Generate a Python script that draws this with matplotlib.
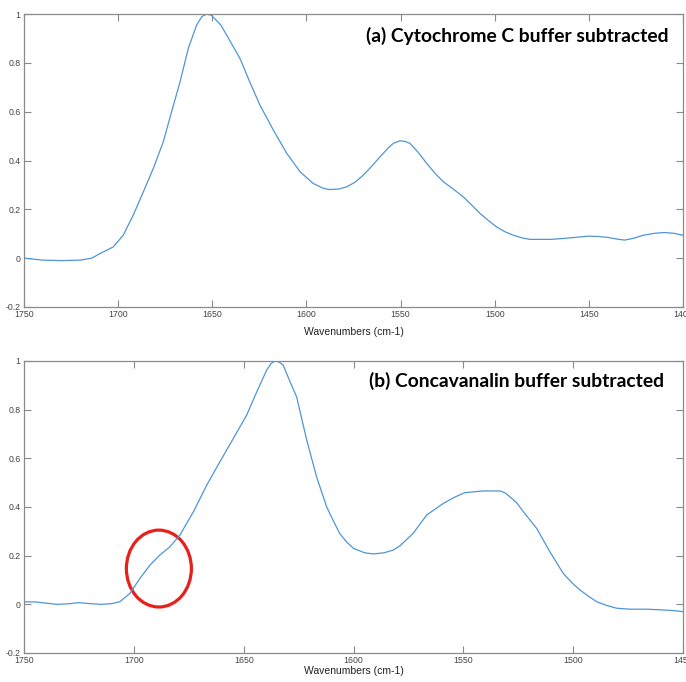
import matplotlib
matplotlib.use("Agg")
import matplotlib.pyplot as plt
from matplotlib.patches import Ellipse

# ---- data ----
top_wavenumbers = [1750, 1740, 1730, 1720, 1714, 1709.6, 1702.6, 1697.3, 1692, 1686.6, 1681.3,
                   1676, 1671.6, 1667.2, 1662.7, 1658.3, 1655.5, 1653, 1650.5, 1648.6, 1645.5,
                   1642.4, 1635.3, 1630, 1624.7, 1617.6, 1610.5, 1603.4, 1596.4, 1591, 1587.5,
                   1583, 1578.6, 1574, 1569.8, 1565.5, 1560.9, 1556.5, 1553.9, 1550.3, 1547.5,
                   1545, 1540.5, 1536.1, 1531.5, 1527.3, 1522, 1516.7, 1512, 1507.8, 1503.5,
                   1499, 1494.5, 1490.1, 1485.5, 1481.3, 1470, 1463, 1456, 1450.5, 1445, 1440,
                   1435, 1431, 1426, 1421, 1415, 1410, 1405, 1400]
top_absorbance = [0.0, -0.008, -0.01, -0.008, 0.0, 0.019, 0.046, 0.094, 0.176, 0.272, 0.368,
                  0.477, 0.60, 0.72, 0.86, 0.955, 0.99, 0.999, 0.995, 0.98, 0.955,
                  0.914, 0.818, 0.72, 0.627, 0.525, 0.43, 0.354, 0.306, 0.286, 0.281,
                  0.283, 0.292, 0.312, 0.34, 0.375, 0.415, 0.452, 0.47, 0.481, 0.478,
                  0.47, 0.432, 0.388, 0.346, 0.313, 0.283, 0.251, 0.216, 0.183, 0.155,
                  0.128, 0.108, 0.094, 0.083, 0.077, 0.077, 0.081, 0.086, 0.09, 0.089, 0.085,
                  0.078, 0.074, 0.082, 0.094, 0.102, 0.105, 0.102, 0.094]

bottom_wavenumbers = [1750, 1745, 1740, 1735, 1730, 1725, 1720, 1715, 1710, 1706.3, 1701.8,
                      1697.2, 1692.6, 1688.1, 1683.5, 1679, 1672.9, 1666.8, 1660.8, 1654.7,
                      1648.6, 1644, 1639.5, 1637.5, 1635.8, 1634, 1632, 1628.9, 1625.9, 1621.3,
                      1616.8, 1612.2, 1609, 1606.2, 1603, 1600, 1595, 1591, 1586, 1581.9,
                      1578.9, 1572.8, 1566.7, 1559.1, 1554, 1549.3, 1540.9, 1533.3, 1531,
                      1528.8, 1525.5, 1522.7, 1516.6, 1510.6, 1504.5, 1500.5, 1496.9, 1493,
                      1489.3, 1485, 1480.2, 1474, 1466.4, 1459.2, 1454, 1450]
bottom_absorbance = [0.01, 0.01, 0.005, 0.0, 0.002, 0.007, 0.003, 0.0, 0.003, 0.011, 0.045,
                     0.107, 0.162, 0.203, 0.237, 0.285, 0.38, 0.49, 0.586, 0.682,
                     0.778, 0.874, 0.963, 0.99, 1.0, 0.996, 0.983, 0.915, 0.853, 0.675,
                     0.524, 0.40, 0.34, 0.29, 0.255, 0.23, 0.212, 0.207, 0.212, 0.223,
                     0.24, 0.292, 0.367, 0.415, 0.44, 0.459, 0.466, 0.466, 0.458,
                     0.442, 0.415, 0.381, 0.312, 0.216, 0.127, 0.088, 0.059, 0.033,
                     0.011, -0.004, -0.016, -0.02, -0.02, -0.023, -0.026, -0.03]

top_xticks = [1750, 1700, 1650, 1600, 1550, 1500, 1450, 1400]
bottom_xticks = [1750, 1700, 1650, 1600, 1550, 1500, 1450]
yticks = [-0.2, 0, 0.2, 0.4, 0.6, 0.8, 1]
ytick_labels = ["-0.2", "0", "0.2", "0.4", "0.6", "0.8", "1"]
xlabel = "Wavenumbers (cm-1)"
top_title = "(a) Cytochrome C buffer subtracted"
bottom_title = "(b) Concavanalin buffer subtracted"

# ---- figure ----
W, H = 686, 682
fig = plt.figure(figsize=(W / 100, H / 100), dpi=100)

line_color = "#4f95d6"
spine_color = "#8a8a8a"
tick_text_color = "#444444"

def px_rect(x0, y0, x1, y1):
    return [x0 / W, 1 - y1 / H, (x1 - x0) / W, (y1 - y0) / H]

def style_axes(ax, xticks, xlim, labelpad):
    ax.set_xlim(xlim)
    ax.set_ylim(-0.2, 1)
    ax.set_xticks(xticks)
    ax.set_xticklabels([str(t) for t in xticks])
    ax.set_yticks(yticks)
    ax.set_yticklabels(ytick_labels)
    ax.tick_params(direction="in", length=5, width=0.8, color=spine_color,
                   labelsize=6.3, labelcolor=tick_text_color,
                   top=True, right=True, pad=2.5)
    for lab in ax.get_xticklabels() + ax.get_yticklabels():
        lab.set_fontfamily("Liberation Sans")
    for s in ax.spines.values():
        s.set_color(spine_color)
        s.set_linewidth(0.9)
    ax.set_xlabel(xlabel, fontsize=7.5, family="Liberation Sans", color="#222222",
                  labelpad=labelpad)

ax1 = fig.add_axes(px_rect(24, 14, 683, 307))
ax1.plot(top_wavenumbers, top_absorbance, color=line_color, lw=0.9)
style_axes(ax1, top_xticks, (1750, 1400), 5.5)
ax1.text(669 / W, 1 - 36 / H, top_title, transform=fig.transFigure, ha="right", va="center",
         fontsize=13.9, fontweight="bold", family="Lato", color="black")

ax2 = fig.add_axes(px_rect(24, 361, 683, 653))
ax2.plot(bottom_wavenumbers, bottom_absorbance, color=line_color, lw=0.9)
style_axes(ax2, bottom_xticks, (1750, 1450), 0.5)
ax2.text(664 / W, 1 - 381 / H, bottom_title, transform=fig.transFigure, ha="right", va="center",
         fontsize=13.9, fontweight="bold", family="Lato", color="black")

ell = Ellipse((1688.6, 0.147), width=29.6, height=0.316, fill=False,
              edgecolor="#e8201c", lw=2.3, clip_on=False)
ax2.add_patch(ell)

fig.savefig("out.png", dpi=100)
